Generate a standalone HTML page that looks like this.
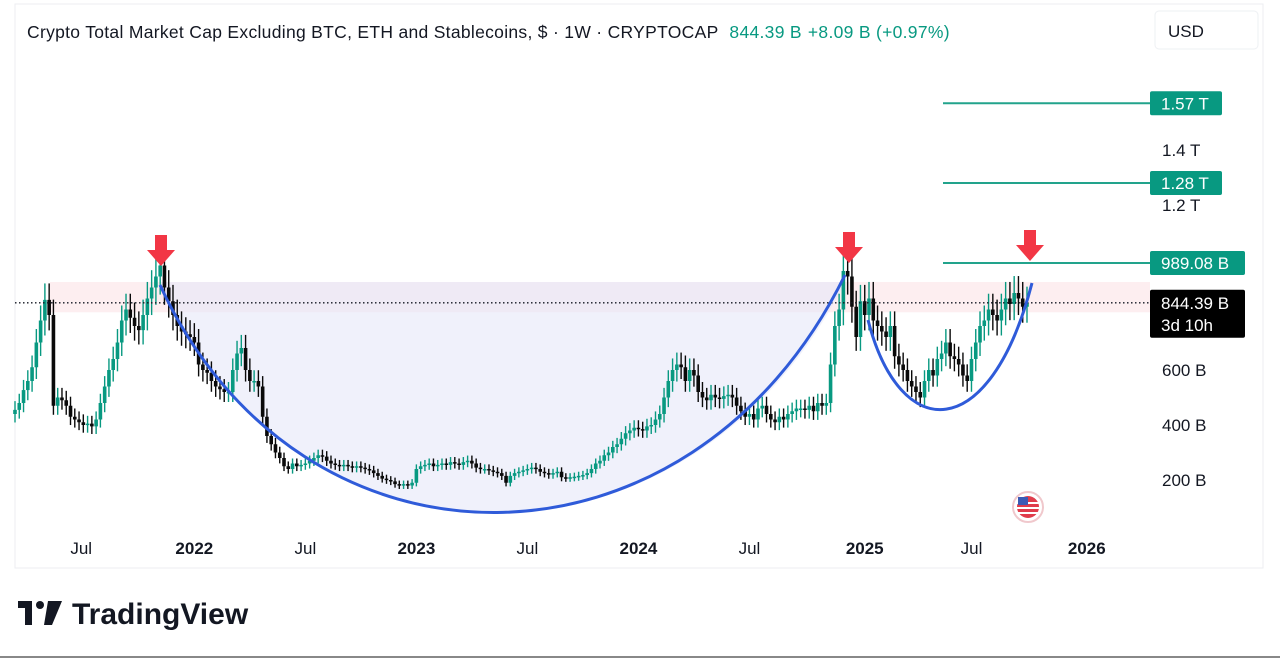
<!DOCTYPE html>
<html><head><meta charset="utf-8">
<style>
html,body{margin:0;padding:0;background:#fff;width:1280px;height:659px;overflow:hidden;font-family:"Liberation Sans",sans-serif;}
svg text{font-family:"Liberation Sans",sans-serif;}
</style></head>
<body>
<svg id="chart" width="1280" height="659" viewBox="0 0 1280 659" xmlns="http://www.w3.org/2000/svg">
  <rect x="0" y="0" width="1280" height="659" fill="#fff"/>
  <rect x="15" y="4" width="1248" height="564" fill="none" stroke="#eceef2" stroke-width="1"/>
  <line x1="0" y1="657" x2="1280" y2="657" stroke="#888" stroke-width="2"/>
  <g id="zones"></g>
  <g id="candles"></g>
  <g id="overlay"></g>
  <text x="27" y="38" font-size="17.5" letter-spacing="0.3" fill="#131722">Crypto Total Market Cap Excluding BTC, ETH and Stablecoins, $ · 1W · CRYPTOCAP <tspan fill="#089981" dx="6">844.39 B</tspan><tspan fill="#089981" dx="6">+8.09 B (+0.97%)</tspan></text>
  <rect x="1155" y="11" width="103" height="38" rx="4" fill="#fff" stroke="#eef0f3"/>
  <text x="1168" y="37" font-size="17" fill="#131722">USD</text>
  <g id="yaxis"></g>
  <g id="xaxis"></g>
  <g>
    <path d="M18 601 h14 v24 h-7 v-17 h-7 z" fill="#131722"/>
    <circle cx="40" cy="605" r="4" fill="#131722"/>
    <path d="M48 601 h14 l-10 24 h-8 z" fill="#131722"/>
    <text x="72" y="624" font-size="30" font-weight="bold" fill="#131722">TradingView</text>
  </g>
</svg>
<script>
const closes = [455,480,527,560,610,700,780,855,800,470,
500,490,470,430,420,410,400,405,395,420,
480,540,600,640,700,780,820,790,760,745,
800,860,900,940,980,900,850,800,760,740,
730,720,700,620,600,590,560,540,530,520,
520,600,660,680,600,560,560,540,430,360,
330,300,280,250,240,260,250,255,260,270,
280,290,285,270,260,255,250,255,250,245,
250,245,240,235,225,215,205,200,195,185,
180,185,180,190,240,250,255,260,250,255,
260,255,265,260,255,265,270,260,245,240,
240,235,230,225,215,190,215,225,230,235,
240,245,240,230,225,220,225,230,210,208,
210,212,215,218,225,240,260,270,290,300,
320,330,350,370,380,390,385,380,395,400,
420,440,500,560,600,620,610,560,600,580,
520,500,490,510,500,495,505,510,500,470,
450,430,440,420,460,470,440,420,410,430,
420,440,450,460,460,455,470,450,480,470,
480,620,760,820,960,940,830,720,850,800,
860,780,760,740,720,760,650,620,600,560,
540,520,500,560,600,580,640,660,700,650,
640,620,580,560,640,700,760,780,820,800,
780,820,860,840,880,860,830,844];
const firstOpen = 440;
const yTicks = [200,400,600,1200,1400];
const yTickLabels = ["200 B","400 B","600 B","1.2 T","1.4 T"];
const targetLevels = [1570,1280,989.08];
const targetLabels = ["1.57 T","1.28 T","989.08 B"];
const lastPrice = 844.39;
const xTickLabels = ["Jul","2022","Jul","2023","Jul","2024","Jul","2025","Jul","2026"];
const xTickWeeks = [15.5,42,68,94,120,146,172,199,224,251];

const NS="http://www.w3.org/2000/svg";
function yS(v){return 535 - v*0.275;}
function xS(i){return 15 + i*4.27;}
function mk(tag,attrs,parent){const e=document.createElementNS(NS,tag);for(const k in attrs)e.setAttribute(k,attrs[k]);parent.appendChild(e);return e;}

const zones=document.getElementById('zones');
const band=mk('rect',{x:50,y:yS(920),width:1100,height:yS(810)-yS(920),fill:'#fdeef0'},zones);


const cupFill=mk('path',{d:'M160 282 C 300 590 690 590 845 282 Z',fill:'#e6e8f8','fill-opacity':'0.6'},zones);



const cg=document.getElementById('candles');
let prev=firstOpen;
closes.forEach((c,i)=>{
  const o=prev, x=xS(i);
  const up=c>=o;
  const col=up?'#089981':'#0a0a0a';
  const hi=Math.max(o,c)*1.07, lo=Math.min(o,c)*0.93;
  const g=mk('g',{},cg);
  
  
  mk('line',{x1:x,x2:x,y1:yS(hi),y2:yS(lo),stroke:col,'stroke-width':1.4},g);
  const top=yS(Math.max(o,c)), bot=yS(Math.min(o,c));
  mk('rect',{x:x-1.8,y:top,width:3.6,height:Math.max(1.5,bot-top),fill:col},g);
  prev=c;
});

const ov=document.getElementById('overlay');
const dl=mk('line',{x1:15,x2:1150,y1:yS(lastPrice),y2:yS(lastPrice),stroke:'#131722','stroke-width':1.3,'stroke-dasharray':'1.5 2.5'},ov);


const cup1=mk('path',{d:'M160 285 C 300 590 690 590 845 275',fill:'none',stroke:'#2f5bd9','stroke-width':3},ov);


const cup2=mk('path',{d:'M868 320 C 900 445 990 445 1032 283',fill:'none',stroke:'#2f5bd9','stroke-width':3},ov);


[[161,235],[849,232],[1030,230]].forEach(([ax,ay])=>{
  const a=mk('path',{d:`M${ax-6} ${ay} h12 v15 h8 l-14 16 l-14 -16 h8 z`,fill:'#f23645'},ov);
  
  
});

const ya=document.getElementById('yaxis');
yTicks.forEach((v,i)=>{
  const t=mk('text',{x:1162,y:yS(v)+6,'font-size':17,fill:'#131722'},ya);
  t.textContent=yTickLabels[i];
  
  
});
targetLevels.forEach((v,i)=>{
  const y=yS(v);
  const l=mk('line',{x1:943,x2:1150,y1:y,y2:y,stroke:'#22a38c','stroke-width':2},ya);
  
  
  const w=i===2?95:72;
  const r=mk('rect',{x:1150,y:y-12,width:w,height:24,rx:2,fill:'#089981'},ya);
  
  
  const t=mk('text',{x:1161,y:y+6,'font-size':17,fill:'#fff'},ya);
  t.textContent=targetLabels[i];
  
  
});
const ly=yS(lastPrice);
const lb=mk('rect',{x:1150,y:ly-13,width:95,height:48,rx:2,fill:'#000'},ya);


const lt=mk('text',{x:1161,y:ly+6,'font-size':17,fill:'#fff'},ya);
lt.textContent=lastPrice.toFixed(2)+' B';


const ct=mk('text',{x:1161,y:ly+28,'font-size':17,fill:'#fff'},ya);
ct.textContent='3d 10h';



const xa=document.getElementById('xaxis');
xTickLabels.forEach((s,i)=>{
  const t=mk('text',{x:xS(xTickWeeks[i]),y:554,'font-size':17,'text-anchor':'middle',fill:'#131722','font-weight':/^\d/.test(s)?'bold':'normal'},xa);
  t.textContent=s;
  
  
});
const flag=mk('g',{},xa);


mk('circle',{cx:1028,cy:507,r:15,fill:'#fff',stroke:'#f0c8cc','stroke-width':2},flag);
mk('circle',{cx:1028,cy:507,r:11,fill:'#e03c4b'},flag);
[502,507,512].forEach(y=>mk('rect',{x:1017,y:y,width:22,height:2,fill:'#fff'},flag));
mk('rect',{x:1018,y:497,width:10,height:8,fill:'#3c5ab4'},flag);
</script>
</body></html>
